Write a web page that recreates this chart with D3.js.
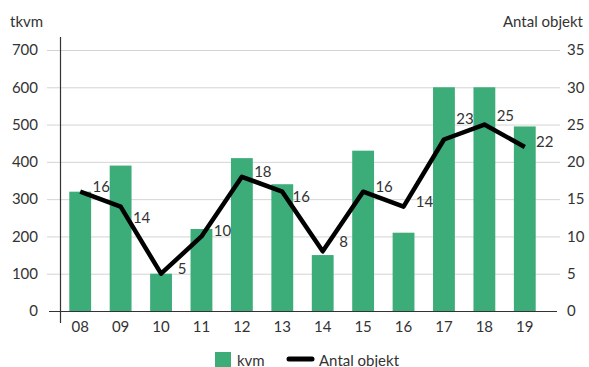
<!DOCTYPE html>
<html>
<head>
<meta charset="utf-8">
<script src="https://cdn.jsdelivr.net/npm/d3@7"></script>
<style>
  html, body { margin: 0; padding: 0; background: #fff; }
  svg text { font-family: Lato, "Open Sans", sans-serif; fill: #333; }
</style>
</head>
<body>
<svg id="chart" width="589" height="367"></svg>
<script>
// Years (two-digit) shown on the x axis
const years = ["08", "09", "10", "11", "12", "13", "14", "15", "16", "17", "18", "19"];
// Area in thousand square metres (bars, left axis)
const kvm = [320, 390, 100, 220, 410, 340, 150, 430, 210, 600, 600, 495];
// Number of objects (line, right axis)
const antalObjekt = [16, 14, 5, 10, 18, 16, 8, 16, 14, 23, 25, 22];
// Axis ticks
const leftTicks = [0, 100, 200, 300, 400, 500, 600, 700];
const rightTicks = [0, 5, 10, 15, 20, 25, 30, 35];

const svg = d3.select("#chart");
const green = "#3cac79";

const x = d3.scaleBand()
  .domain(years)
  .range([60, 545])
  .paddingInner(0.46)
  .paddingOuter(0.23);

const yLeft = d3.scaleLinear().domain([0, 700]).range([311, 50]);
const yRight = d3.scaleLinear().domain([0, 35]).range([311, 50]);

// Horizontal gridlines
svg.append("g")
  .selectAll("line")
  .data(leftTicks.filter(d => d > 0))
  .join("line")
  .attr("x1", 47).attr("x2", 560)
  .attr("y1", d => yLeft(d) + 0.5).attr("y2", d => yLeft(d) + 0.5)
  .attr("stroke", "#d4d4d4").attr("stroke-width", 1);

// Left axis labels
const leftAxis = d3.axisLeft(yLeft).tickValues(leftTicks).tickSize(0).tickPadding(0);
const gl = svg.append("g").attr("transform", "translate(38,0)").call(leftAxis);
gl.select(".domain").remove();
gl.selectAll("text").style("font-size", "15px").attr("fill", "#333")
  .attr("font-family", "Lato, 'Open Sans', sans-serif");

// Right axis labels
const rightAxis = d3.axisRight(yRight).tickValues(rightTicks).tickSize(0).tickPadding(0);
const gr = svg.append("g").attr("transform", "translate(567,0)").call(rightAxis);
gr.select(".domain").remove();
gr.selectAll("text").style("font-size", "15px").attr("fill", "#333")
  .attr("font-family", "Lato, 'Open Sans', sans-serif");

// Bars
svg.append("g")
  .selectAll("rect")
  .data(years.map((y, i) => ({ y, v: kvm[i] })))
  .join("rect")
  .attr("x", d => x(d.y))
  .attr("width", x.bandwidth())
  .attr("y", d => yLeft(d.v))
  .attr("height", d => yLeft(0) - yLeft(d.v))
  .attr("fill", green);

// Baseline and vertical axis line
svg.append("line")
  .attr("x1", 49).attr("x2", 557)
  .attr("y1", yLeft(0) + 0.5).attr("y2", yLeft(0) + 0.5)
  .attr("stroke", "#333").attr("stroke-width", 1.2);
svg.append("line")
  .attr("x1", 60.5).attr("x2", 60.5)
  .attr("y1", 37).attr("y2", 323)
  .attr("stroke", "#333").attr("stroke-width", 1.2);

// X axis labels
const bottomAxis = d3.axisBottom(x).tickSize(0).tickPadding(0);
const gb = svg.append("g").attr("transform", "translate(0,321)").call(bottomAxis);
gb.select(".domain").remove();
gb.selectAll("text").style("font-size", "15px").attr("fill", "#333")
  .attr("dy", "0.71em")
  .attr("font-family", "Lato, 'Open Sans', sans-serif");

// Line of object counts
const cx = d => x(d) + x.bandwidth() / 2;
const line = d3.line()
  .x((d, i) => cx(years[i]))
  .y(d => yRight(d));
svg.append("path")
  .datum(antalObjekt)
  .attr("d", line)
  .attr("fill", "none")
  .attr("stroke", "#000")
  .attr("stroke-width", 4.5)
  .attr("stroke-linejoin", "round");

// Value labels beside each point; vertical nudges keep them off the line
const labelDy = [0, 16, 0, 0, 0, 10, -4, 0, 0, -15, -4, 0];
const labelDx = [0, 0, 0, 0, 0, -2, 0, 0, 0, 0, 0, -1];
svg.append("g")
  .selectAll("text")
  .data(antalObjekt)
  .join("text")
  .attr("x", (d, i) => cx(years[i]) + 21 + labelDx[i])
  .attr("y", (d, i) => yRight(d) + labelDy[i])
  .attr("text-anchor", "middle")
  .style("font-size", "15px")
  .text(d => d);

// Axis titles
svg.append("text").attr("x", 10).attr("y", 27).style("font-size", "15px").text("tkvm");
svg.append("text").attr("x", 583).attr("y", 27).attr("text-anchor", "end")
  .style("font-size", "15px").text("Antal objekt");

// Legend
const lg = svg.append("g");
lg.append("rect").attr("x", 215).attr("y", 352).attr("width", 16).attr("height", 16).attr("fill", green);
lg.append("text").attr("x", 237).attr("y", 366).style("font-size", "15px").text("kvm");
lg.append("line").attr("x1", 289).attr("x2", 312).attr("y1", 359).attr("y2", 359)
  .attr("stroke", "#000").attr("stroke-width", 5).attr("stroke-linecap", "round");
lg.append("text").attr("x", 319).attr("y", 366).style("font-size", "15px").text("Antal objekt");
</script>
</body>
</html>
